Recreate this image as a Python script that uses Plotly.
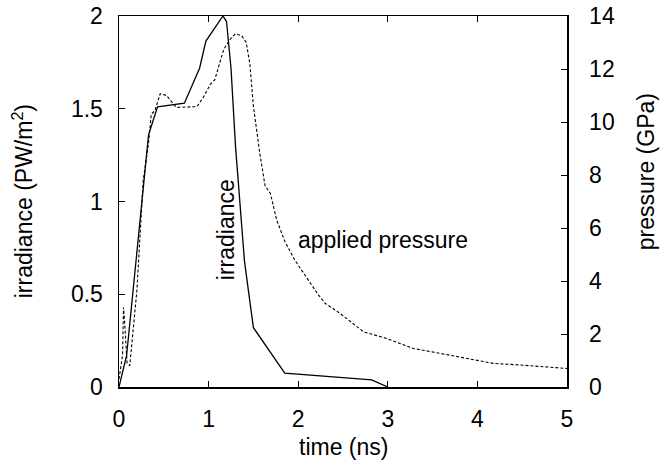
import plotly.graph_objects as go

# irradiance (PW/m^2) vs time (ns)
irr_time = [0.0, 0.085, 0.33, 0.43, 0.73, 0.90, 0.97, 1.16, 1.20, 1.25, 1.30, 1.40, 1.50, 1.85, 2.82, 3.0]
irr_vals = [0.0, 0.17, 1.36, 1.51, 1.53, 1.72, 1.865, 2.0, 1.97, 1.72, 1.30, 0.68, 0.32, 0.075, 0.038, 0.0]

# applied pressure (GPa) vs time (ns)
p_time = [0.0, 0.04, 0.05, 0.06, 0.09, 0.12, 0.20, 0.23, 0.27, 0.33, 0.36, 0.40, 0.46, 0.53, 0.59, 0.64,
          0.87, 0.94, 1.02, 1.07, 1.17, 1.24, 1.30, 1.37, 1.42, 1.46, 1.50, 1.57, 1.63, 1.69, 1.76, 1.85,
          1.96, 2.10, 2.22, 2.30, 2.47, 2.73, 2.99, 3.28, 3.58, 3.88, 4.18, 4.48, 5.0]
p_vals = [0.3, 1.2, 3.0, 2.6, 0.9, 0.8, 3.65, 5.4, 7.8, 9.2, 10.3, 10.42, 11.07, 11.0, 10.74, 10.55,
          10.58, 10.93, 11.42, 11.6, 12.75, 13.12, 13.33, 13.25, 13.0, 12.2, 10.6, 8.85, 7.6, 7.3, 6.3, 5.5,
          4.8, 4.1, 3.5, 3.16, 2.77, 2.08, 1.83, 1.46, 1.27, 1.08, 0.89, 0.83, 0.70]

x_ticks = [0, 1, 2, 3, 4, 5]
y_ticks = [0, 0.5, 1, 1.5, 2]
y2_ticks = [0, 2, 4, 6, 8, 10, 12, 14]

FONT = "Liberation Sans, Arial, sans-serif"
FS = 23

fig = go.Figure()
fig.add_trace(go.Scatter(x=irr_time, y=irr_vals, mode="lines",
                         line=dict(color="black", width=1.3), yaxis="y", showlegend=False))
fig.add_trace(go.Scatter(x=p_time, y=p_vals, mode="lines",
                         line=dict(color="black", width=1.1, dash="3px,2px"), yaxis="y2", showlegend=False))

L, R, T, B = 119, 567, 15.5, 387
W, H = 660, 460

def px(x):
    return (x - L) / (R - L)

def py(y):
    return (B - y) / (B - T)

axis_common = dict(showgrid=False, zeroline=False, showline=True, linecolor="black", linewidth=1.5,
                   ticks="inside", ticklen=6, tickwidth=1, tickcolor="black", automargin=False,
                   tickfont=dict(family=FONT, size=FS, color="black"))

fig.update_layout(
    width=W, height=H,
    margin=dict(l=L, r=W - R, t=T, b=H - B, pad=0, autoexpand=False),
    paper_bgcolor="white", plot_bgcolor="white",
    font=dict(family=FONT, size=FS, color="black"),
    xaxis=dict(range=[0, 5], tickvals=x_ticks, ticktext=[str(v) for v in x_ticks], mirror="ticks",
               ticklabelstandoff=11, **axis_common),
    yaxis=dict(range=[0, 2], tickvals=y_ticks, ticktext=["0", "0.5", "1", "1.5", "2"],
               ticklabelstandoff=10, **axis_common),
    yaxis2=dict(range=[0, 14], tickvals=y2_ticks, ticktext=[str(v) for v in y2_ticks],
                overlaying="y", side="right", ticklabelstandoff=16, **axis_common),
    annotations=[
        dict(text="time (ns)", xref="paper", yref="paper", x=px(343), y=py(447),
             showarrow=False, font=dict(family=FONT, size=FS), xanchor="center", yanchor="middle"),
        dict(text="irradiance (PW/m<sup>2</sup>)", xref="paper", yref="paper", x=px(23), y=py(201),
             showarrow=False, textangle=-90, font=dict(family=FONT, size=FS), xanchor="center", yanchor="middle"),
        dict(text="pressure (GPa)", xref="paper", yref="paper", x=px(646), y=py(172),
             showarrow=False, textangle=-90, font=dict(family=FONT, size=FS), xanchor="center", yanchor="middle"),
        dict(text="irradiance", xref="paper", yref="paper", x=px(226), y=py(230),
             showarrow=False, textangle=-90, font=dict(family=FONT, size=FS), xanchor="center", yanchor="middle"),
        dict(text="applied pressure", xref="paper", yref="paper", x=px(383), y=py(240),
             showarrow=False, font=dict(family=FONT, size=FS), xanchor="center", yanchor="middle"),
    ],
)

fig.write_html("out.html", config={"displayModeBar": False, "staticPlot": True},
               post_script="document.body.style.margin='0';document.body.style.overflow='hidden';")
